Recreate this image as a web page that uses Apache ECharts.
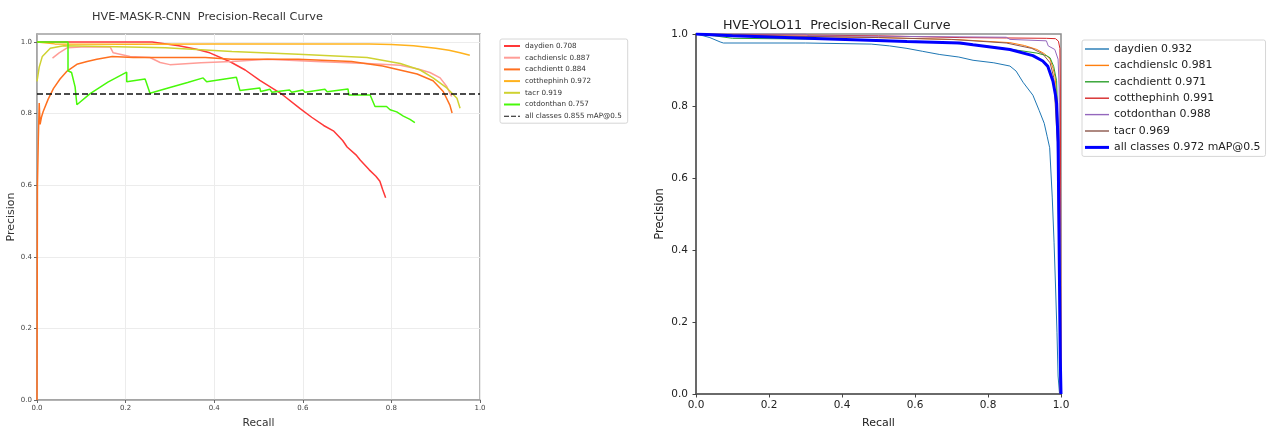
<!DOCTYPE html>
<html>
<head>
<meta charset="utf-8">
<script src="https://cdn.jsdelivr.net/npm/echarts@6/dist/echarts.min.js"></script>
<style>
  html, body { margin: 0; padding: 0; background: #fff; }
  #main { width: 1269px; height: 434px; }
</style>
</head>
<body>
<div id="main"></div>
<script>
var FONT = 'DejaVu Sans';

// ---- left panel: HVE-MASK-R-CNN, [recall, precision] pairs
var maskDaydien = [[0,1],[0.26,1],[0.28,0.997],[0.32,0.99],[0.36,0.98],[0.39,0.97],[0.436,0.945],[0.47,0.922],[0.503,0.893],[0.55,0.857],[0.594,0.814],[0.62,0.79],[0.647,0.767],[0.669,0.752],[0.69,0.725],[0.70,0.707],[0.72,0.685],[0.73,0.67],[0.75,0.643],[0.765,0.625],[0.774,0.611],[0.78,0.589],[0.787,0.565]];
var maskCachdienslc = [[0.035,0.955],[0.05,0.97],[0.068,0.984],[0.1,0.986],[0.165,0.987],[0.172,0.97],[0.21,0.96],[0.255,0.957],[0.278,0.943],[0.3,0.937],[0.37,0.942],[0.44,0.946],[0.52,0.952],[0.63,0.946],[0.745,0.94],[0.82,0.935],[0.86,0.925],[0.887,0.915],[0.91,0.9],[0.925,0.876],[0.932,0.857],[0.936,0.848]];
var maskCachdientt = [[0,0],[0.001,0.6],[0.003,0.73],[0.005,0.83],[0.007,0.77],[0.01,0.79],[0.014,0.806],[0.025,0.84],[0.037,0.87],[0.052,0.897],[0.068,0.919],[0.09,0.938],[0.113,0.946],[0.135,0.952],[0.17,0.96],[0.217,0.957],[0.29,0.957],[0.38,0.957],[0.44,0.952],[0.59,0.952],[0.71,0.946],[0.78,0.933],[0.858,0.911],[0.894,0.892],[0.917,0.862],[0.932,0.824],[0.937,0.802]];
var maskCotthephinh = [[0,1],[0.04,0.995],[0.2,0.994],[0.4,0.995],[0.6,0.995],[0.75,0.995],[0.8,0.993],[0.85,0.99],[0.9,0.983],[0.93,0.977],[0.955,0.97],[0.977,0.963]];
var maskTacr = [[0,0.89],[0.005,0.93],[0.012,0.96],[0.03,0.983],[0.06,0.99],[0.15,0.988],[0.29,0.984],[0.44,0.974],[0.59,0.966],[0.745,0.957],[0.82,0.94],[0.865,0.922],[0.894,0.9],[0.925,0.872],[0.948,0.843],[0.955,0.815]];
var maskCotdonthan = [[0,1],[0.07,1],[0.07,0.92],[0.078,0.915],[0.086,0.875],[0.09,0.825],[0.12,0.856],[0.16,0.888],[0.2025,0.916],[0.2025,0.889],[0.244,0.897],[0.246,0.89],[0.255,0.857],[0.3,0.873],[0.34,0.887],[0.375,0.9],[0.383,0.889],[0.45,0.902],[0.458,0.865],[0.503,0.872],[0.505,0.862],[0.526,0.868],[0.53,0.86],[0.57,0.866],[0.575,0.86],[0.6,0.866],[0.605,0.86],[0.65,0.868],[0.655,0.861],[0.702,0.869],[0.704,0.852],[0.752,0.852],[0.763,0.82],[0.789,0.82],[0.797,0.811],[0.812,0.805],[0.827,0.793],[0.842,0.784],[0.853,0.775]];
var maskAll = [[0,0.855],[1,0.855]];

// ---- right panel: HVE-YOLO11
var yoloDaydien = [[0,1],[0.02,0.995],[0.038,0.99],[0.066,0.978],[0.075,0.975],[0.3,0.975],[0.48,0.972],[0.53,0.967],[0.578,0.96],[0.62,0.952],[0.668,0.943],[0.72,0.936],[0.759,0.927],[0.816,0.92],[0.86,0.911],[0.877,0.897],[0.896,0.866],[0.923,0.83],[0.94,0.788],[0.954,0.752],[0.962,0.716],[0.969,0.684],[0.976,0.547],[0.981,0.42],[0.985,0.3],[0.989,0.17],[0.992,0.05],[0.996,0]];
var yoloCachdienslc = [[0,1],[0.1,0.997],[0.3,0.993],[0.5,0.99],[0.723,0.984],[0.86,0.976],[0.9,0.968],[0.934,0.957],[0.955,0.945],[0.97,0.93],[0.978,0.905],[0.984,0.88],[0.99,0.8],[0.995,0.5],[0.998,0.2],[1,0]];
var yoloCachdientt = [[0,1],[0.05,0.995],[0.1,0.988],[0.3,0.986],[0.5,0.983],[0.7,0.975],[0.8,0.966],[0.86,0.958],[0.934,0.947],[0.96,0.94],[0.97,0.934],[0.98,0.91],[0.988,0.87],[0.993,0.7],[0.997,0.3],[1,0]];
var yoloCotthephinh = [[0,1],[0.2,0.998],[0.5,0.995],[0.723,0.99],[0.85,0.989],[0.96,0.988],[0.985,0.987],[0.993,0.98],[0.997,0.96],[0.998,0.85],[0.999,0.5],[1,0]];
var yoloCotdonthan = [[0,1],[0.3,1],[0.31,0.995],[0.6,0.993],[0.85,0.991],[0.86,0.985],[0.96,0.981],[0.965,0.967],[0.983,0.957],[0.992,0.93],[0.995,0.85],[0.997,0.5],[1,0]];
var yoloTacr = [[0,1],[0.2,0.995],[0.5,0.99],[0.7,0.985],[0.85,0.975],[0.92,0.96],[0.95,0.945],[0.97,0.92],[0.98,0.88],[0.99,0.7],[0.995,0.3],[0.997,0]];
var yoloAll = [[0,1],[0.1,0.995],[0.304,0.988],[0.578,0.979],[0.723,0.975],[0.759,0.97],[0.86,0.957],[0.923,0.94],[0.95,0.925],[0.964,0.91],[0.978,0.869],[0.985,0.83],[0.988,0.807],[0.992,0.7],[0.994,0.5],[0.996,0.3],[0.998,0.1],[1,0]];

var maskNames = ['daydien 0.708','cachdienslc 0.887','cachdientt 0.884','cotthephinh 0.972','tacr 0.919','cotdonthan 0.757','all classes 0.855 mAP@0.5'];
var yoloNames = ['daydien 0.932','cachdienslc 0.981','cachdientt 0.971','cotthephinh 0.991','cotdonthan 0.988','tacr 0.969','all classes 0.972 mAP@0.5'];
var ticks = [0, 0.2, 0.4, 0.6, 0.8, 1.0];

function line(name, data, color, width, idx, dash) {
    return {
        type: 'line', name: name, data: data,
        xAxisIndex: idx, yAxisIndex: idx,
        symbol: 'none', silent: true, animation: false,
        color: color,
        lineStyle: { color: color, width: width, type: dash || 'solid' }
    };
}

function lbl(v) {
    return Math.abs(v * 5 - Math.round(v * 5)) < 1e-6 ? v.toFixed(1) : '';
}

var chart = echarts.init(document.getElementById('main'));
chart.setOption({
    backgroundColor: '#fff',
    textStyle: { fontFamily: FONT },
    title: [
        { text: 'HVE-MASK-R-CNN  Precision-Recall Curve', left: 87, top: 7,
          textStyle: { fontFamily: FONT, fontSize: 11.3, fontWeight: 'normal', color: '#333' } },
        { text: 'HVE-YOLO11  Precision-Recall Curve', left: 718, top: 14,
          textStyle: { fontFamily: FONT, fontSize: 12.7, fontWeight: 'normal', color: '#222' } }
    ],
    legend: [
        {
            orient: 'vertical', left: 500, top: 39,
            itemWidth: 16, itemHeight: 2, itemGap: 3.7,
            padding: [3, 6, 3, 4],
            borderColor: '#d6d6d6', borderWidth: 1, borderRadius: 2, backgroundColor: '#fff',
            selectedMode: false,
            itemStyle: { borderWidth: 0 },
            textStyle: { fontFamily: FONT, fontSize: 7.2, lineHeight: 8, color: '#333' },
            data: maskNames.map(function (n, i) {
                return { name: n, icon: i === 6 ? 'path://M0,0h5v1h-5z M7,0h5v1h-5z M14,0h2v1h-2z' : 'rect' };
            })
        },
        {
            orient: 'vertical', left: 1082, top: 40,
            itemWidth: 24, itemHeight: 3, itemGap: 4.4,
            padding: [3, 5, 3, 3],
            borderColor: '#d6d6d6', borderWidth: 1, borderRadius: 2, backgroundColor: '#fff',
            selectedMode: false,
            itemStyle: { borderWidth: 0 },
            textStyle: { fontFamily: FONT, fontSize: 10.9, lineHeight: 12, color: '#222' },
            data: yoloNames.map(function (n, i) {
                return { name: n, icon: i === 6 ? 'path://M0,0h24v3h-24z' : 'path://M0,0h24v1.4h-24z' };
            })
        }
    ],
    grid: [
        { left: 37, top: 34, width: 443, height: 375, show: true, borderColor: '#a0a0a0', borderWidth: 1.5 },
        { left: 696, top: 34, width: 365, height: 367, show: true, borderColor: '#8c8c8c', borderWidth: 1.5 }
    ],
    xAxis: [
        {
            type: 'value', gridIndex: 0, min: 0, max: 1, interval: 0.2,
            name: 'Recall', nameLocation: 'middle', nameGap: 18,
            nameTextStyle: { fontFamily: FONT, fontSize: 10.7, color: '#333' },
            axisLine: { show: true, lineStyle: { color: '#a0a0a0', width: 1.5 } },
            axisTick: { show: true, length: 3, lineStyle: { color: '#666' } },
            axisLabel: { fontFamily: FONT, fontSize: 7, color: '#444', margin: 5, formatter: lbl },
            splitLine: { show: true, lineStyle: { color: '#ececec', width: 1 } }
        },
        {
            type: 'value', gridIndex: 1, min: 0, max: 1, interval: 0.2,
            name: 'Recall', nameLocation: 'middle', nameGap: 24,
            nameTextStyle: { fontFamily: FONT, fontSize: 11, color: '#222' },
            axisLine: { show: true, lineStyle: { color: '#555', width: 1.5 } },
            axisTick: { show: true, length: 3.5, lineStyle: { color: '#444' } },
            axisLabel: { fontFamily: FONT, fontSize: 10.5, color: '#222', margin: 6, formatter: lbl },
            splitLine: { show: false }
        }
    ],
    yAxis: [
        {
            type: 'value', gridIndex: 0, min: 0, max: 1.0226, interval: 0.2,
            name: 'Precision', nameLocation: 'middle', nameGap: 20,
            nameTextStyle: { fontFamily: FONT, fontSize: 11, color: '#333' },
            axisLine: { show: true, lineStyle: { color: '#a0a0a0', width: 1.5 } },
            axisTick: { show: true, length: 3, lineStyle: { color: '#666' }, customValues: ticks },
            axisLabel: { fontFamily: FONT, fontSize: 7, color: '#444', margin: 5, customValues: ticks, formatter: lbl },
            splitLine: { show: true, lineStyle: { color: '#ececec', width: 1 } }
        },
        {
            type: 'value', gridIndex: 1, min: 0, max: 1, interval: 0.2,
            name: 'Precision', nameLocation: 'middle', nameGap: 30,
            nameTextStyle: { fontFamily: FONT, fontSize: 11.6, color: '#222' },
            axisLine: { show: true, lineStyle: { color: '#555', width: 1.5 } },
            axisTick: { show: true, length: 3.5, lineStyle: { color: '#444' } },
            axisLabel: { fontFamily: FONT, fontSize: 10.5, color: '#222', margin: 8, formatter: lbl },
            splitLine: { show: false }
        }
    ],
    series: [
        line(maskNames[0], maskDaydien, '#FF3838', 1.5, 0),
        line(maskNames[1], maskCachdienslc, '#FF9D97', 1.5, 0),
        line(maskNames[2], maskCachdientt, '#FF701F', 1.5, 0),
        line(maskNames[3], maskCotthephinh, '#FFB21D', 1.5, 0),
        line(maskNames[4], maskTacr, '#CFD231', 1.5, 0),
        line(maskNames[5], maskCotdonthan, '#48F90A', 1.5, 0),
        line(maskNames[6], maskAll, '#111', 1.5, 0, [6, 3]),

        line(yoloNames[0], yoloDaydien, '#1f77b4', 1, 1),
        line(yoloNames[1], yoloCachdienslc, '#ff7f0e', 1, 1),
        line(yoloNames[2], yoloCachdientt, '#2ca02c', 1, 1),
        line(yoloNames[3], yoloCotthephinh, '#d62728', 1, 1),
        line(yoloNames[4], yoloCotdonthan, '#9467bd', 1, 1),
        line(yoloNames[5], yoloTacr, '#8c564b', 1, 1),
        line(yoloNames[6], yoloAll, '#0000ff', 3, 1)
    ]
});
</script>
</body>
</html>
